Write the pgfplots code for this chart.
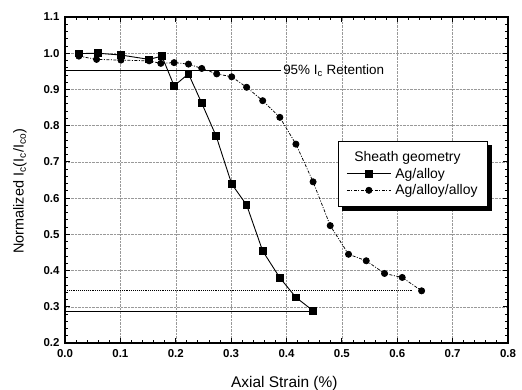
\documentclass[border=0pt]{standalone}
\usepackage{fontspec}
\setmainfont{Liberation Sans}
\usepackage{pgfplots}
\pgfplotsset{compat=1.18}
\begin{document}
\begin{tikzpicture}
\begin{axis}[
  at={(0,0)}, anchor=south west,
  scale only axis, width=443bp, height=326bp,
  xmin=0, xmax=0.8, ymin=0.2, ymax=1.1,
  xtick={0,0.1,...,0.8}, ytick={0.2,0.3,...,1.1},
  minor tick num=4,
  tick align=inside,
  major tick length=5bp, minor tick length=3bp,
  every tick/.style={black, line width=0.9pt},
  axis line style={line width=1.4pt},
  grid=major,
  major grid style={densely dotted, gray!80, line width=0.45pt},
  /pgf/number format/assume math mode=true,
  /pgf/number format/fixed, /pgf/number format/fixed zerofill, /pgf/number format/precision=1,
  tick label style={font=\fontsize{11.5}{13}\selectfont\bfseries},
  xticklabel style={yshift=-3bp},
  yticklabel style={xshift=-2bp},
  xlabel={Axial Strain (\%)},
  ylabel={Normalized I\textsubscript{c}(I\textsubscript{c}/I\textsubscript{co})},
  xlabel style={font=\fontsize{15.5}{17}\selectfont, at={(axis description cs:0.495,0)}, anchor=base, yshift=-44bp},
  ylabel style={font=\fontsize{14.5}{16}\selectfont, at={(axis description cs:0,0.465)}, anchor=center, yshift=45bp},
  legend cell align=left,
  legend style={name=leg, at={(axis cs:0.493,0.758)}, anchor=north west,
    draw=black, line width=0.9pt, fill=white,
    font=\fontsize{14}{16}\selectfont, inner xsep=8bp, inner ysep=8bp,
    row sep=1bp, column sep=2bp},
  legend image code/.code={\draw[mark repeat=2,mark phase=2,#1] plot coordinates {(0bp,0bp) (22bp,0bp) (44bp,0bp)};},
]
\addlegendimage{empty legend}
\addlegendentry{\hspace{-41bp}Sheath geometry}
\addplot[black, line width=0.9pt, mark=square*, mark size=3.3bp, mark options={solid}] coordinates {
 (0.025,0.999) (0.059,1.0) (0.101,0.995) (0.152,0.983) (0.175,0.992)
 (0.197,0.910) (0.223,0.943) (0.247,0.862) (0.273,0.771) (0.301,0.639)
 (0.328,0.581) (0.357,0.454) (0.388,0.380) (0.417,0.326) (0.448,0.289)
};
\addlegendentry{Ag/alloy}
\addplot[black, line width=0.75pt, dash pattern=on 3pt off 1.5pt on 1pt off 1.5pt, mark=*, mark size=3.1bp, mark options={solid}] coordinates {
 (0.025,0.992) (0.057,0.983) (0.101,0.981) (0.152,0.979) (0.173,0.972)
 (0.197,0.974) (0.223,0.970) (0.247,0.958) (0.274,0.943) (0.301,0.935)
 (0.328,0.906) (0.357,0.869) (0.388,0.823) (0.417,0.749) (0.448,0.645)
 (0.479,0.524) (0.512,0.445) (0.544,0.427) (0.577,0.392) (0.609,0.381)
 (0.644,0.344)
};
\addlegendentry{Ag/alloy/alloy\hspace{6bp}}
\addplot[black, line width=1pt, forget plot] coordinates {(0,0.951) (0.39,0.951)};
\addplot[black, line width=0.9pt, densely dotted, forget plot] coordinates {(0,0.346) (0.628,0.346)};
\addplot[black, line width=0.9pt, forget plot] coordinates {(0,0.287) (0.443,0.287)};
\node[anchor=west, font=\fontsize{13.5}{15}\selectfont, inner sep=1bp] at (axis cs:0.392,0.951) {95\% I\textsubscript{c} Retention};
\end{axis}
\fill[black] ([xshift=0.45pt,yshift=-4bp]leg.north east) rectangle ([xshift=4.5bp,yshift=-4.5bp]leg.south east);
\fill[black] ([xshift=4bp,yshift=-0.45pt]leg.south west) rectangle ([xshift=4.5bp,yshift=-4.5bp]leg.south east);
\pgfresetboundingbox
\path[use as bounding box] (-65bp,-47bp) rectangle (457bp,343bp);
\end{tikzpicture}
\end{document}
